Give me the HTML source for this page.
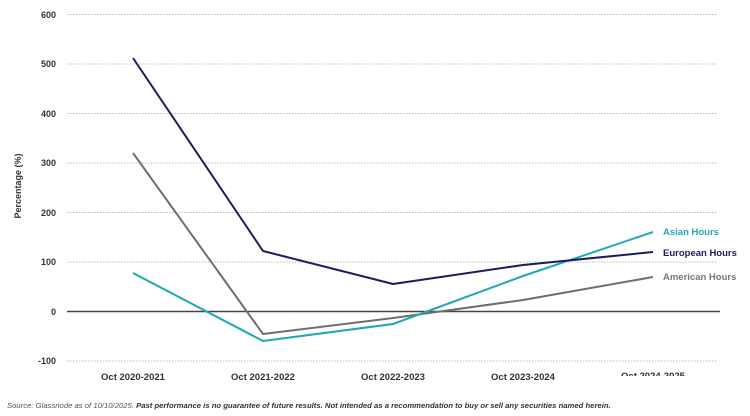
<!DOCTYPE html>
<html><head><meta charset="utf-8"><style>
html,body{margin:0;padding:0;background:#fff;width:750px;height:416px;overflow:hidden}
svg{display:block}
text{font-family:"Liberation Sans",sans-serif}
</style></head><body>
<svg width="750" height="416" viewBox="0 0 750 416">
<g stroke="#bbb" stroke-width="1" stroke-dasharray="1.5,1.5">
<line x1="67" x2="718" y1="14.5" y2="14.5"/>
<line x1="67" x2="718" y1="64" y2="64"/>
<line x1="67" x2="718" y1="113.5" y2="113.5"/>
<line x1="67" x2="718" y1="163" y2="163"/>
<line x1="67" x2="718" y1="212.5" y2="212.5"/>
<line x1="67" x2="718" y1="262" y2="262"/>
<line x1="67" x2="718" y1="361" y2="361"/>
</g>
<line x1="67" x2="720" y1="311.5" y2="311.5" stroke="#444" stroke-width="1.5"/>
<g font-size="9" font-weight="bold" fill="#333" text-anchor="end">
<text x="56" y="18">600</text><text x="56" y="67">500</text><text x="56" y="117">400</text>
<text x="56" y="166">300</text><text x="56" y="216">200</text><text x="56" y="265">100</text>
<text x="56" y="315">0</text><text x="56" y="364">-100</text>
</g>
<text transform="translate(21,186) rotate(-90)" font-size="9" font-weight="bold" fill="#333" text-anchor="middle">Percentage (%)</text>
<g font-size="9.5" font-weight="bold" fill="#333" text-anchor="middle">
<text x="133" y="380">Oct 2020-2021</text><text x="263" y="380">Oct 2021-2022</text>
<text x="393" y="380">Oct 2022-2023</text><text x="523" y="380">Oct 2023-2024</text>
</g>
<svg x="600" y="368" width="120" height="8"><text x="53" y="11" font-size="9.5" font-weight="bold" fill="#333" text-anchor="middle">Oct 2024-2025</text></svg>
<g fill="none" stroke-width="2" stroke-linejoin="round">
<polyline stroke="#6e6e6e" points="133,153 263,334 393,318 523,300 653,277"/>
<polyline stroke="#1ea9b5" points="133,273 263,341 393,324 523,276 653,232"/>
<polyline stroke="#1c1c5e" points="133,58 263,251 393,284 523,265 653,252"/>
</g>
<g font-size="9.5" font-weight="bold">
<text x="663" y="235" fill="#1ea9b5">Asian Hours</text>
<text x="663" y="256" fill="#1c1c5e">European Hours</text>
<text x="663" y="280" fill="#777">American Hours</text>
</g>
<text x="7" y="408" font-size="7.7" font-style="italic" fill="#555">Source: Glassnode as of 10/10/2025. <tspan font-weight="bold" fill="#333">Past performance is no guarantee of future results. Not intended as a recommendation to buy or sell any securities named herein.</tspan></text>
</svg>
</body></html>
